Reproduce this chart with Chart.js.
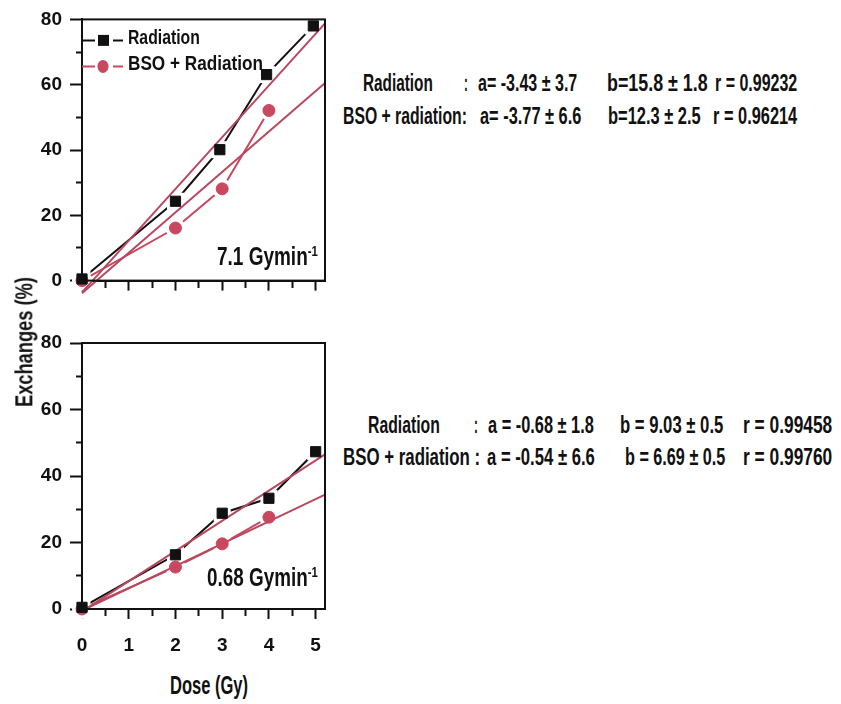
<!DOCTYPE html>
<html>
<head>
<meta charset="utf-8">
<script src="https://cdn.jsdelivr.net/npm/chart.js@4.4.0/dist/chart.umd.min.js"></script>
<style>
    html, body { margin: 0; padding: 0; background: #fff; }
    body { position: relative; width: 841px; height: 704px; overflow: hidden;
           font-family: 'Liberation Sans Narrow', 'Liberation Sans', Arial, sans-serif; color: #111; }
    .panel { position: absolute; left: 0; width: 340px; }
    .txt { position: absolute; white-space: nowrap; line-height: 1; font-weight: bold; }
    .txt sup { font-size: 60%; vertical-align: 0; position: relative; top: -0.55em; }
</style>
</head>
<body>
<div class="panel" style="top:0;height:300px"><canvas id="topChart" width="340" height="300"></canvas></div>
<div class="panel" style="top:320px;height:340px"><canvas id="bottomChart" width="340" height="340"></canvas></div>

<script>
(function () {
    'use strict';

    // dose values (Gy)
    var TOP_DOSE = [0, 2, 2.95, 3.95, 4.95];
    var TOP_DOSE_BSO = [0, 2, 3, 4];
    var BOTTOM_DOSE = [0, 2, 3, 4, 5];
    var BOTTOM_DOSE_BSO = [0, 2, 3, 4];

    // exchanges (%) – 7.1 Gy/min
    var TOP_RADIATION = [0.5, 24.3, 40.1, 63.1, 78.0];
    var TOP_BSO = [0, 16.1, 28.1, 52.1];
    // exchanges (%) – 0.68 Gy/min
    var BOTTOM_RADIATION = [0.5, 16.3, 28.8, 33.3, 47.3];
    var BOTTOM_BSO = [0, 12.6, 19.6, 27.6];

    // regression lines, end points
    var FIT_DOSE = [0, 5.2];
    var TOP_FIT_RADIATION = [-3.6, 78.8];
    var TOP_FIT_BSO = [-3.9, 60.5];
    var BOTTOM_FIT_RADIATION = [-0.7, 46.5];
    var BOTTOM_FIT_BSO = [-0.5, 34.4];

    // axes
    var X_TICKS = [0, 0.5, 1, 1.5, 2, 2.5, 3, 3.5, 4, 4.5, 5];
    var X_LABELS = ['0', '', '1', '', '2', '', '3', '', '4', '', '5'];
    var Y_TICKS = [0, 10, 20, 30, 40, 50, 60, 70, 80];
    var Y_LABELS = ['0', '', '20', '', '40', '', '60', '', '80'];

    var SERIES_NAMES = ['Radiation', 'BSO + Radiation'];

    var BLACK = '#111111';
    var RED = '#c9485f';
    var FIT_RED = '#b8485e';
    var TICK_FONT = { family: "'Liberation Sans Narrow', 'Liberation Sans', Arial, sans-serif", size: 19, weight: 'bold' };

    function toPoints(xs, ys) {
        var out = [];
        for (var i = 0; i < ys.length; i++) {
            out.push({ x: xs[i], y: ys[i] });
        }
        return out;
    }

    // box round the plot area
    var framePlugin = {
        id: 'frame',
        afterDraw: function (chart) {
            var a = chart.chartArea;
            var ctx = chart.ctx;
            ctx.save();
            ctx.strokeStyle = BLACK;
            ctx.lineWidth = 2;
            ctx.strokeRect(a.left, a.top, a.right - a.left, a.bottom - a.top);
            ctx.restore();
        }
    };

    // legend symbols (line – marker – dash), text is html
    var legendPlugin = {
        id: 'symbolLegend',
        afterDraw: function (chart, args, opts) {
            if (!opts || !opts.show) return;
            var ctx = chart.ctx;
            var a = chart.chartArea;
            var rows = [
                { y: a.top + 21, color: BLACK, style: 'rect' },
                { y: a.top + 47, color: RED, style: 'circle' }
            ];
            ctx.save();
            rows.forEach(function (r) {
                ctx.strokeStyle = r.color;
                ctx.fillStyle = r.color;
                ctx.lineWidth = 2;
                ctx.beginPath();
                ctx.moveTo(a.left, r.y);
                ctx.lineTo(a.left + 13, r.y);
                ctx.moveTo(a.left + 31, r.y);
                ctx.lineTo(a.left + 41, r.y);
                ctx.stroke();
                ctx.beginPath();
                if (r.style === 'rect') {
                    ctx.rect(a.left + 16, r.y - 5.5, 11, 11);
                } else {
                    ctx.ellipse(a.left + 21, r.y, 5.5, 6.5, 0, 0, Math.PI * 2);
                }
                ctx.fill();
            });
            ctx.restore();
        }
    };

    function tickDash(major, minorLen) {
        return function (ctx) {
            var v = ctx.tick ? ctx.tick.value : 0;
            return major(v) ? [] : minorLen;
        };
    }

    function makeChart(canvasId, cfg) {
        var canvas = document.getElementById(canvasId);
        var ctx = canvas.getContext('2d');
        var halo = function (data, style, r, order) {
            return {
                data: data, showLine: true, borderColor: style === 'rect' ? BLACK : RED,
                borderWidth: 2, pointStyle: style, pointRadius: r,
                pointBackgroundColor: '#fff', pointBorderColor: '#fff', pointBorderWidth: 0,
                order: order, clip: false
            };
        };
        var marks = function (data, style, r, color) {
            return {
                data: data, showLine: false, pointStyle: style, pointRadius: r,
                pointBackgroundColor: color, pointBorderColor: color, pointBorderWidth: 1,
                order: 0, clip: false
            };
        };
        var fit = function (data) {
            return {
                data: data, showLine: true, borderColor: FIT_RED, borderWidth: 2,
                pointRadius: 0, order: 1, clip: false
            };
        };

        return new Chart(ctx, {
            type: 'scatter',
            data: {
                datasets: [
                    halo(cfg.rad, 'rect', 12, 3),
                    halo(cfg.bso, 'circle', 10, 3),
                    fit(cfg.fitRad),
                    fit(cfg.fitBso),
                    marks(cfg.rad, 'rect', 7.2, BLACK),
                    marks(cfg.bso, 'circle', 6, RED)
                ]
            },
            options: {
                responsive: false,
                animation: false,
                events: [],
                layout: { padding: { top: cfg.padTop, right: 15, left: 0, bottom: 0 } },
                plugins: {
                    legend: { display: false },
                    tooltip: { enabled: false },
                    symbolLegend: { show: cfg.legend }
                },
                scales: {
                    x: {
                        type: 'linear', min: 0, max: 5.2,
                        afterBuildTicks: function (scale) {
                            scale.ticks = X_TICKS.map(function (v) { return { value: v }; });
                        },
                        afterFit: function (scale) { scale.height = cfg.xHeight; },
                        ticks: {
                            autoSkip: false, maxRotation: 0, padding: 15, color: BLACK, font: TICK_FONT,
                            callback: function (v) {
                                if (!cfg.xLabels) return '';
                                var i = X_TICKS.indexOf(v);
                                return i >= 0 ? X_LABELS[i] : '';
                            }
                        },
                        grid: {
                            drawOnChartArea: false, drawTicks: true, tickLength: 10,
                            tickColor: BLACK, tickWidth: 2,
                            tickBorderDash: tickDash(function (v) { return v % 1 === 0; }, [6, 100])
                        },
                        border: { display: true, color: BLACK, width: 2 }
                    },
                    y: {
                        type: 'linear', min: 0, max: 80,
                        afterBuildTicks: function (scale) {
                            scale.ticks = Y_TICKS.map(function (v) { return { value: v }; });
                        },
                        afterFit: function (scale) { scale.width = 82; },
                        ticks: {
                            autoSkip: false, padding: 8, color: BLACK, font: TICK_FONT,
                            callback: function (v) {
                                var i = Y_TICKS.indexOf(v);
                                return i >= 0 ? Y_LABELS[i] : '';
                            }
                        },
                        grid: {
                            drawOnChartArea: false, drawTicks: true, tickLength: 12,
                            tickColor: BLACK, tickWidth: 2,
                            tickBorderDash: tickDash(function (v) { return v % 20 === 0; }, [0, 6, 6, 100])
                        },
                        border: { display: true, color: BLACK, width: 2 }
                    }
                }
            },
            plugins: [framePlugin, legendPlugin]
        });
    }

    makeChart('topChart', {
        rad: toPoints(TOP_DOSE, TOP_RADIATION),
        bso: toPoints(TOP_DOSE_BSO, TOP_BSO),
        fitRad: toPoints(FIT_DOSE, TOP_FIT_RADIATION),
        fitBso: toPoints(FIT_DOSE, TOP_FIT_BSO),
        padTop: 15, xHeight: 18, xLabels: false, legend: true
    });

    makeChart('bottomChart', {
        rad: toPoints(BOTTOM_DOSE, BOTTOM_RADIATION),
        bso: toPoints(BOTTOM_DOSE_BSO, BOTTOM_BSO),
        fitRad: toPoints(FIT_DOSE, BOTTOM_FIT_RADIATION),
        fitBso: toPoints(FIT_DOSE, BOTTOM_FIT_BSO),
        padTop: 23, xHeight: 51, xLabels: true, legend: false
    });

    // html text, squeezed to the widths seen in the picture
    function placeText(html, x, y, width, size, rotate) {
        var el = document.createElement('div');
        el.className = 'txt';
        el.innerHTML = html;
        el.style.fontSize = size + 'px';
        document.body.appendChild(el);
        var w = el.offsetWidth;
        var h = el.offsetHeight;
        var s = width / w;
        if (rotate) {
            el.style.left = (x - w / 2) + 'px';
            el.style.top = (y - h / 2) + 'px';
            el.style.transformOrigin = '50% 50%';
            el.style.transform = 'rotate(-90deg) scaleX(' + s + ')';
        } else {
            el.style.left = x + 'px';
            el.style.top = (y - h / 2) + 'px';
            el.style.transformOrigin = '0 50%';
            el.style.transform = 'scaleX(' + s + ')';
        }
    }

    placeText(SERIES_NAMES[0], 128, 36, 72, 21);
    placeText(SERIES_NAMES[1], 128, 62, 135, 21);
    placeText('7.1 Gymin<sup>-1</sup>', 217, 256, 101, 25);
    placeText('0.68 Gymin<sup>-1</sup>', 207, 577, 111, 25);
    placeText('Exchanges (%)', 24, 342, 130, 24, true);
    placeText('Dose (Gy)', 170, 685, 78, 25);

    var PM = '\u00b1';
    var RS = 23;
    placeText('Radiation', 363, 83, 70, RS);
    placeText(':', 464, 83, 4, RS);
    placeText('a= -3.43 ' + PM + ' 3.7', 478, 83, 99, RS);
    placeText('b=15.8 ' + PM + ' 1.8', 607, 83, 101, RS);
    placeText('r = 0.99232', 715, 83, 82, RS);
    placeText('BSO + radiation:', 343, 116, 124, RS);
    placeText('a= -3.77 ' + PM + ' 6.6', 480, 116, 101, RS);
    placeText('b=12.3 ' + PM + ' 2.5', 608, 116, 93, RS);
    placeText('r = 0.96214', 713, 116, 84, RS);

    placeText('Radiation', 368, 425, 72, RS);
    placeText(':', 474, 425, 4, RS);
    placeText('a = -0.68 ' + PM + ' 1.8', 488, 425, 106, RS);
    placeText('b = 9.03 ' + PM + ' 0.5', 620, 425, 103, RS);
    placeText('r = 0.99458', 743, 425, 89, RS);
    placeText('BSO + radiation :', 343, 457, 137, RS);
    placeText('a = -0.54 ' + PM + ' 6.6', 487, 457, 108, RS);
    placeText('b = 6.69 ' + PM + ' 0.5', 625, 457, 100, RS);
    placeText('r = 0.99760', 743, 457, 89, RS);
})();
</script>
</body>
</html>
